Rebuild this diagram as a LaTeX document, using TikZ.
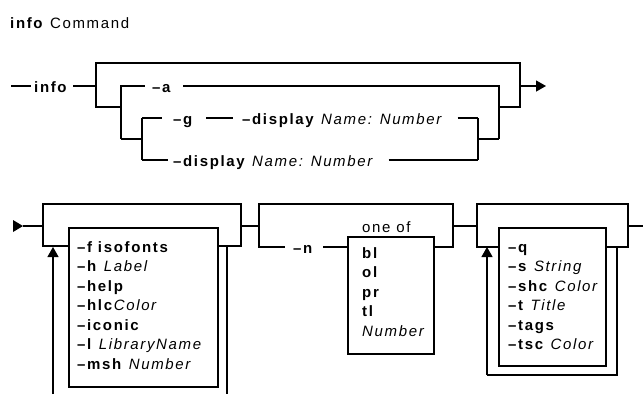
\documentclass[tikz,border=0pt]{standalone}
\usepackage{fontspec}
\setmainfont{Liberation Sans}[LetterSpace=11]
\usetikzlibrary{arrows.meta}
\begin{document}
\begin{tikzpicture}[x=1pt,y=-1pt,
  wire/.style={line width=1.3pt},
  bypass/.style={line width=2.3pt},
  lbl/.style={inner sep=0pt, text height=12pt, text depth=0pt, anchor=west, font=\fontsize{15}{17}\selectfont},
  entry/.style={inner sep=0pt, anchor=base west, font=\fontsize{15}{17}\selectfont},
  optbox/.style={draw, line width=1.5pt, anchor=north west, inner sep=0pt},
  arrowhd/.style={-{Triangle[length=10pt,width=11pt]}}]
\useasboundingbox (0,0) rectangle (643,394);

% title
\node[entry] (title) at (10,28) {\textbf{info} Command};

% ---------- top row ----------
\coordinate (start) at (11,86);
\node[lbl] (info) at (34,86) {\textbf{info}};
\draw[wire] (start) -- ([xshift=-3pt]info.west);
\coordinate (j1) at (96,86);
\draw[wire] ([xshift=5pt]info.east) -- (j1);
\draw[bypass] (j1) -- (96,63) -- (520,63) -- (520,86);
\draw[wire] (j1) -- (96,107) -- (121,107);
\draw[wire] (499,107) -- (520,107) -- (520,86);
\coordinate (endA) at (546,86);
\draw[wire, arrowhd] (520,86) -- (endA);

\node[lbl] (a) at (152,86) {\textbf{–a}};
\draw[wire] (121,139) -- (121,86) -- ([xshift=-7pt]a.west);
\draw[wire] ([xshift=11pt]a.east) -- (499,86) -- (499,139);
\draw[wire] (121,139) -- (142,139);
\draw[wire] (478,139) -- (499,139);
\draw[wire] (142,118) -- (142,160);
\draw[wire] (478,118) -- (478,160);

\node[lbl] (g) at (173,118) {\textbf{–g}};
\node[lbl] (d1) at (242,118) {\textbf{–display} \textit{Name: Number}};
\draw[wire] (142,118) -- ([xshift=-11pt]g.west);
\draw[wire] ([xshift=12pt]g.east) -- ([xshift=-9pt]d1.west);
\draw[wire] ([xshift=14pt]d1.east) -- (478,118);

\node[lbl] (d2) at (173,160) {\textbf{–display} \textit{Name: Number}};
\draw[wire] (142,160) -- ([xshift=-5pt]d2.west);
\draw[wire] ([xshift=14pt]d2.east) -- (478,160);

% ---------- bottom row ----------
\fill (13,220) -- (23,226) -- (13,232) -- cycle;
\coordinate (s2) at (23,226);
\draw[wire] (s2) -- (43,226);

% group 1
\draw[bypass] (43,226) -- (43,204) -- (241,204) -- (241,226);
\node[optbox, minimum width=149pt, minimum height=159pt] (box1) at (68,227) {};
\draw[wire] (43,226) -- (43,246) -- (68,246);
\draw[wire] (217,246) -- (241,246) -- (241,226);
\draw[wire, arrowhd] (53,394) -- (53,247);
\draw[wire] (227,246) -- (227,394);
\foreach \t [count=\i from 0] in {{\textbf{–f isofonts}},{\textbf{–h} \textit{Label}},{\textbf{–help}},{\textbf{–hlc}\textit{Color}},{\textbf{–iconic}},{\textbf{–l} \textit{LibraryName}},{\textbf{–msh} \textit{Number}}}
  \node[entry] (ea\i) at (77,{252+19.5*\i}) {\t};
\draw[wire] (241,226) -- (259,226);

% group 2
\draw[bypass] (259,226) -- (259,204) -- (453,204) -- (453,226);
\node[lbl] (n) at (293,247) {\textbf{–n}};
\node[optbox, minimum width=86pt, minimum height=117pt] (box2) at (347,236) {};
\draw[wire] (259,226) -- (259,247) -- ([xshift=-8pt]n.west);
\draw[wire] ([xshift=9pt]n.east) -- (347,247);
\draw[wire] (433,247) -- (453,247) -- (453,226);
\node[entry] (oneof) at (362,232) {one of};
\foreach \t [count=\i from 0] in {{\textbf{bl}},{\textbf{ol}},{\textbf{pr}},{\textbf{tl}},{\textit{Number}}}
  \node[entry] (eb\i) at (362,{258+19.5*\i}) {\t};
\draw[wire] (453,226) -- (477,226);

% group 3
\draw[bypass] (477,226) -- (477,204) -- (628,204) -- (628,226);
\node[optbox, minimum width=107pt, minimum height=138pt] (box3) at (498,227) {};
\draw[wire] (477,226) -- (477,247) -- (498,247);
\draw[wire] (605,247) -- (628,247) -- (628,226);
\coordinate (endB) at (643,226);
\draw[wire] (628,226) -- (endB);
\draw[wire] (617,247) -- (617,375) -- (487,375);
\draw[wire, arrowhd] (487,375) -- (487,247);
\foreach \t [count=\i from 0] in {{\textbf{–q}},{\textbf{–s} \textit{String}},{\textbf{–shc} \textit{Color}},{\textbf{–t} \textit{Title}},{\textbf{–tags}},{\textbf{–tsc} \textit{Color}}}
  \node[entry] (ec\i) at (508,{252+19.5*\i}) {\t};
\end{tikzpicture}
\end{document}
